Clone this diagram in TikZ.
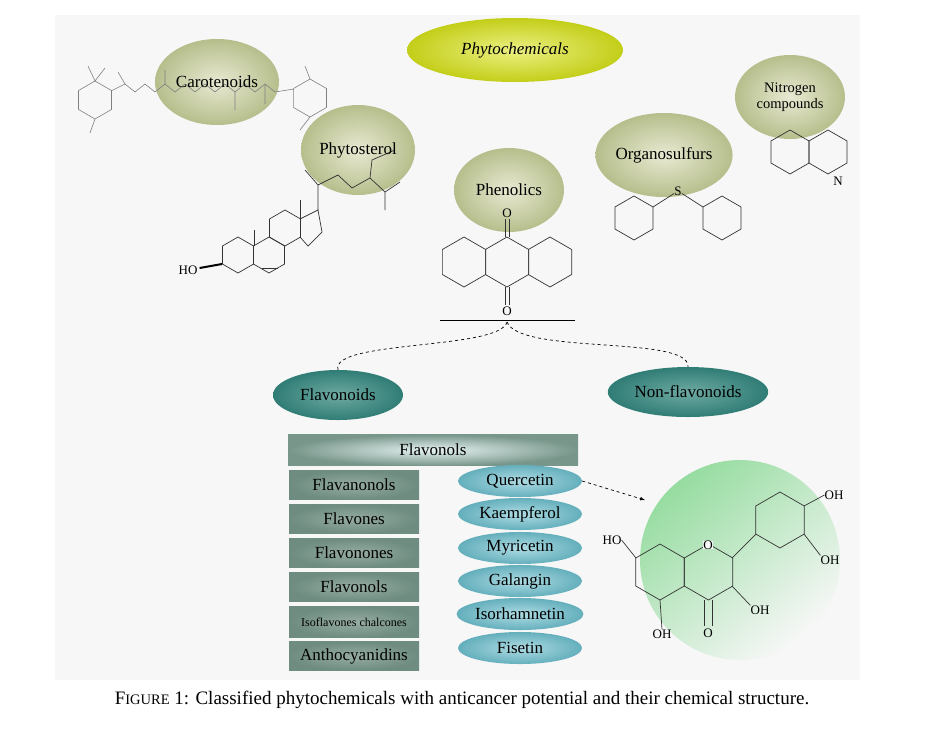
\documentclass[tikz,border=0pt]{standalone}
\usepackage{fontspec}
\setmainfont{Liberation Serif}
\usetikzlibrary{shapes.geometric}
\begin{document}
\begin{tikzpicture}[x=1pt,y=-1pt,
 olv/.style={ellipse,draw=none,inner sep=0pt,inner color={rgb,255:red,232;green,234;blue,210},outer color={rgb,255:red,182;green,190;blue,140},font=\fontsize{17}{19}\selectfont},
 teal1/.style={ellipse,draw=none,inner color={rgb,255:red,110;green,170;blue,162},outer color={rgb,255:red,48;green,125;blue,118},font=\fontsize{17}{19}\selectfont,minimum height=50},
 cmp/.style={ellipse,draw=none,inner sep=0pt,inner color={rgb,255:red,175;green,220;blue,228},outer color={rgb,255:red,100;green,175;blue,188},minimum width=124,minimum height=32,font=\fontsize{17}{19}\selectfont},
 box/.style={rectangle,draw=none,inner color={rgb,255:red,150;green,172;blue,162},outer color={rgb,255:red,110;green,140;blue,128},minimum width=130,minimum height=29,font=\fontsize{17}{19}\selectfont},
 chem/.style={line width=0.7pt,draw=black!80},
 gch/.style={line width=0.6pt,draw=black!50},
 lbl/.style={inner sep=0,font=\fontsize{13}{15}\selectfont}]
\useasboundingbox (0,0) rectangle (925,729);
\fill[white] (0,0) rectangle (925,729);
\fill[black!3] (55,15) rectangle (860,680);
\newcommand\hexr[4][chem]{\draw[#1] (#2,#3) +(90:#4) -- +(30:#4) -- +(-30:#4) -- +(-90:#4) -- +(-150:#4) -- +(150:#4) -- cycle;}
\node[olv,minimum width=124,minimum height=86] (car) at (217,82) {};
\node[olv,minimum width=114,minimum height=90] (phy) at (358,150) {};
% carotene
\hexr[gch]{95}{100}{19}
\draw[gch] (111,91) -- (125,84) -- (135,92) -- (145,84) -- (155,92) -- (165,84) -- (175,92) -- (185,84) -- (195,92) -- (205,84) -- (215,92) -- (225,84) -- (235,92) -- (245,84) -- (255,92) -- (265,84) -- (275,92) -- (294,89);
\hexr[gch]{310}{98}{19}
\draw[gch] (125,84) -- (118,72) (165,84) -- (165,70) (235,92) -- (235,110) (265,84) -- (265,104);
\draw[gch] (95,81) -- (88,66) (95,81) -- (105,68) (95,119) -- (90,133) (310,117) -- (300,130) (310,79) -- (305,66);
\node[font=\fontsize{17}{19}\selectfont] (cart) at (car) {Carotenoids};
% steroid
\hexr{238}{255}{18}
\hexr{269}{255}{18}
\hexr{285}{228}{18}
\draw[chem] (300,219) -- (318,210) -- (322,232) -- (308,246) -- (300,237);
\draw[chem] (318,210) -- (318,185) -- (338,175) -- (352,188) -- (370,178) -- (372,160) -- (395,150);
\draw[chem] (370,178) -- (385,192) -- (385,210) (385,192) -- (400,182);
\draw[chem] (318,185) -- (305,170);
\draw[chem] (254,246) -- (254,230) (300,219) -- (300,200);
\draw[chem] (262,268) -- (278,268);
\node[lbl] (ho1) at (188,270) {HO};
\draw[line width=2pt] (ho1.east) ++(2,-2) -- (222,264);
\node[font=\fontsize{17}{19}\selectfont] (phyt) at (358,150) {Phytosterol};
% phytochemicals
\node[ellipse,minimum width=216,minimum height=64,inner color={rgb,255:red,236;green,240;blue,130},outer color={rgb,255:red,195;green,206;blue,25},font=\itshape\fontsize{17}{19}\selectfont] (pc) at (515,50) {Phytochemicals};
% phenolics + anthraquinone
\node[olv,minimum width=110,minimum height=84] (phe) at (509,190) {Phenolics};
\hexr{464}{262}{25} \hexr{507}{262}{25} \hexr{550}{262}{25}
\draw[chem] (505,237) -- (505,219) (509,237) -- (509,219);
\draw[chem] (505,287) -- (505,305) (509,287) -- (509,305);
\node[lbl] (o1) at (507,213) {O};
\node[lbl] (o2) at (507,311) {O};
\draw[black,line width=0.7pt] (440,320) -- (575,320);
\coordinate (split) at (507,322);
% organosulfurs
\node[olv,minimum width=114,minimum height=84] (org) at (664,155) {Organosulfurs};
\hexr{634}{218}{22} \hexr{722}{218}{22}
\node[lbl] (s) at (678,191) {S};
\draw[chem] (653,207) -- (s) -- (703,207);
% nitrogen
\node[olv,minimum width=110,minimum height=84,align=center,font=\fontsize{14.5}{16}\selectfont] (nit) at (790,97) {Nitrogen\\compounds};
\hexr{790}{152}{22} \hexr{828}{152}{22}
\node[lbl] (n) at (838,181) {N};
% flavonoids
\node[teal1,minimum width=130] (fla) at (338,395) {Flavonoids};
\node[teal1,minimum width=160] (nfl) at (688,392) {Non-flavonoids};
\draw[dashed,line width=0.7pt] (split) .. controls (500,350) and (330,340) .. (fla.north);
\draw[dashed,line width=0.7pt] (split) .. controls (520,355) and (690,335) .. (nfl.north);
\node[rectangle,minimum width=290,minimum height=31,inner color=white!90!teal,outer color={rgb,255:red,120;green,150;blue,138},font=\fontsize{17}{19}\selectfont] (fols) at (433,450) {Flavonols};
\node[box] (b1) at (354,485) {Flavanonols};
\node[box] (b2) at (354,519) {Flavones};
\node[box] (b3) at (354,553) {Flavonones};
\node[box] (b4) at (354,587) {Flavonols};
\node[box,minimum height=31,font=\fontsize{12}{14}\selectfont] (b5) at (354,622) {Isoflavones chalcones};
\node[box] (b6) at (354,656) {Anthocyanidins};
\node[cmp] (c1) at (520,481) {Quercetin};
\node[cmp] (c2) at (520,514) {Kaempferol};
\node[cmp] (c3) at (520,548) {Myricetin};
\node[cmp] (c4) at (520,581) {Galangin};
\node[cmp] (c5) at (520,614) {Isorhamnetin};
\node[cmp] (c6) at (520,648) {Fisetin};
% quercetin
\node[circle,minimum size=200,top color={rgb,255:red,150;green,220;blue,160},bottom color=black!3,shading angle=40] (qc) at (740,560) {};
\draw[dashed,line width=0.7pt,-latex] (c1.east) -- (645,500);
\hexr{660}{572}{28} \hexr{708.5}{572}{28}
\hexr{780}{520}{28}
\draw[chem] (732,558) -- (756,534);
\draw[chem] (704,600) -- (704,626) (712,600) -- (712,626);
\node[lbl,fill=black!3] (oq) at (708,545) {O};
\node[lbl] (oq2) at (708,633) {O};
\node[lbl] (hoa) at (612,540) {HO}; \draw[chem] (636,558) -- (hoa.east);
\node[lbl] (oha) at (662,634) {OH}; \draw[chem] (660,600) -- (oha.north);
\node[lbl] (ohc) at (760,610) {OH}; \draw[chem] (732,586) -- (ohc.north west);
\node[lbl] (ohb1) at (834,495) {OH}; \draw[chem] (804,506) -- (ohb1.west);
\node[lbl] (ohb2) at (830,560) {OH}; \draw[chem] (804,534) -- (ohb2.north west);
\node[font=\fontsize{19}{21}\selectfont] (cap) at (462,700) {F{\fontsize{14.5}{16}\selectfont IGURE} 1: Classified phytochemicals with anticancer potential and their chemical structure.};
\end{tikzpicture}
\end{document}
